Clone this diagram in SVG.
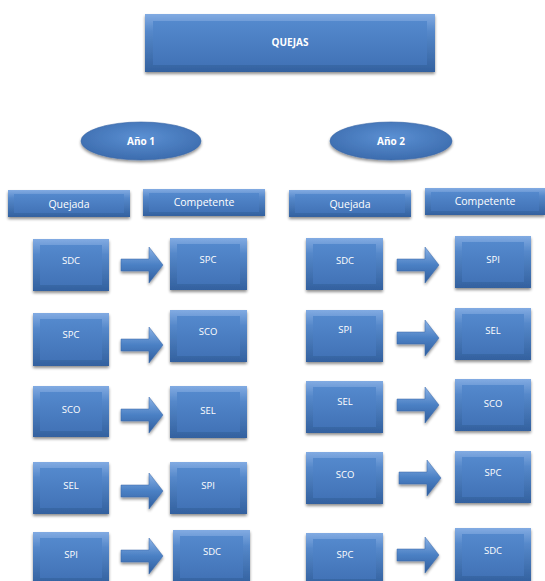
<svg xmlns="http://www.w3.org/2000/svg" width="545" height="581" viewBox="0 0 545 581">
<defs>
<linearGradient id="face" x1="0" y1="0" x2="0" y2="1">
<stop offset="0" stop-color="#5489cd"/>
<stop offset="1" stop-color="#4273b7"/>
</linearGradient>
<linearGradient id="edge" x1="0" y1="0" x2="0" y2="1">
<stop offset="0" stop-color="#82abe2"/>
<stop offset="0.3" stop-color="#5588ca"/>
<stop offset="1" stop-color="#33619f"/>
</linearGradient>
<radialGradient id="ell" cx="0.5" cy="0.4" r="0.6">
<stop offset="0" stop-color="#5b90d3"/>
<stop offset="1" stop-color="#3c6cae"/>
</radialGradient>
<linearGradient id="arr" x1="0" y1="0" x2="0" y2="1">
<stop offset="0" stop-color="#8ab2e6"/>
<stop offset="0.5" stop-color="#4b80c4"/>
<stop offset="1" stop-color="#2f5e9e"/>
</linearGradient>
<filter id="sh" x="-20%" y="-20%" width="140%" height="150%">
<feGaussianBlur in="SourceAlpha" stdDeviation="1.5"/>
<feOffset dx="0" dy="2" result="b"/>
<feComponentTransfer><feFuncA type="linear" slope="0.45"/></feComponentTransfer>
<feMerge><feMergeNode/><feMergeNode in="SourceGraphic"/></feMerge>
</filter>
</defs>
<style>
.o{fill:url(#edge);filter:url(#sh)}
.i{fill:url(#face)}
.e{fill:url(#ell);stroke:#3a68a8;stroke-width:0.6;filter:url(#sh)}
.a{fill:url(#arr);stroke:#3a68a8;stroke-width:0.5;filter:url(#sh)}
text{font-family:"Open Sans","Liberation Sans",sans-serif;fill:#fff;text-anchor:middle}
.b{font-size:9.5px}
.h{font-size:10.5px}
.t{font-size:10px;font-weight:bold}
</style>

<g id="title"><rect class="o" x="145" y="14" width="290" height="58"/><rect class="i" x="153" y="21" width="274" height="44"/><text class="t" x="290" y="46">QUEJAS</text></g>

<g id="ano1"><ellipse class="e" cx="141" cy="141" rx="60" ry="19"/><text class="t" x="141" y="145">Año 1</text></g>
<g id="ano2"><ellipse class="e" cx="391" cy="141" rx="61" ry="19"/><text class="t" x="391" y="145">Año 2</text></g>

<g id="quejada1"><rect class="o" x="8" y="190" width="122" height="27"/><rect class="i" x="14" y="194" width="110" height="19"/><text class="h" x="69" y="208">Quejada</text></g>
<g id="competente1"><rect class="o" x="143" y="189" width="122" height="27"/><rect class="i" x="149" y="193" width="110" height="19"/><text class="h" x="204" y="206">Competente</text></g>
<g id="quejada2"><rect class="o" x="289" y="190" width="122" height="27"/><rect class="i" x="295" y="194" width="110" height="19"/><text class="h" x="350" y="208">Quejada</text></g>
<g id="competente2"><rect class="o" x="425" y="188" width="120" height="27"/><rect class="i" x="431" y="192" width="108" height="19"/><text class="h" x="485" y="205">Competente</text></g>

<g id="a1q1"><rect class="o" x="33" y="239" width="76" height="52"/><rect class="i" x="40" y="245" width="62" height="40"/><text class="b" x="71" y="264">SDC</text></g>
<g id="a1q2"><rect class="o" x="33" y="313" width="76" height="53"/><rect class="i" x="40" y="319" width="62" height="41"/><text class="b" x="71" y="338">SPC</text></g>
<g id="a1q3"><rect class="o" x="33" y="386" width="76" height="51"/><rect class="i" x="40" y="392" width="62" height="39"/><text class="b" x="71" y="413">SCO</text></g>
<g id="a1q4"><rect class="o" x="33" y="462" width="76" height="52"/><rect class="i" x="40" y="468" width="62" height="40"/><text class="b" x="71" y="489">SEL</text></g>
<g id="a1q5"><rect class="o" x="33" y="532" width="76" height="52"/><rect class="i" x="40" y="538" width="62" height="40"/><text class="b" x="71" y="558">SPI</text></g>

<g id="a1c1"><rect class="o" x="170" y="238" width="77" height="52"/><rect class="i" x="177" y="244" width="63" height="40"/><text class="b" x="208" y="263">SPC</text></g>
<g id="a1c2"><rect class="o" x="170" y="310" width="77" height="52"/><rect class="i" x="177" y="316" width="63" height="40"/><text class="b" x="208" y="335">SCO</text></g>
<g id="a1c3"><rect class="o" x="170" y="386" width="77" height="52"/><rect class="i" x="177" y="392" width="63" height="40"/><text class="b" x="208" y="414">SEL</text></g>
<g id="a1c4"><rect class="o" x="170" y="462" width="77" height="52"/><rect class="i" x="177" y="468" width="63" height="40"/><text class="b" x="208" y="489">SPI</text></g>
<g id="a1c5"><rect class="o" x="173" y="530" width="77" height="54"/><rect class="i" x="180" y="536" width="63" height="42"/><text class="b" x="212" y="555">SDC</text></g>

<g id="a2q1"><rect class="o" x="306" y="238" width="77" height="52"/><rect class="i" x="313" y="244" width="63" height="40"/><text class="b" x="345" y="264">SDC</text></g>
<g id="a2q2"><rect class="o" x="306" y="310" width="77" height="52"/><rect class="i" x="313" y="316" width="63" height="40"/><text class="b" x="345" y="333">SPI</text></g>
<g id="a2q3"><rect class="o" x="306" y="381" width="77" height="52"/><rect class="i" x="313" y="387" width="63" height="40"/><text class="b" x="345" y="405">SEL</text></g>
<g id="a2q4"><rect class="o" x="306" y="452" width="77" height="52"/><rect class="i" x="313" y="458" width="63" height="40"/><text class="b" x="345" y="478">SCO</text></g>
<g id="a2q5"><rect class="o" x="306" y="533" width="77" height="52"/><rect class="i" x="313" y="539" width="63" height="40"/><text class="b" x="345" y="558">SPC</text></g>

<g id="a2c1"><rect class="o" x="455" y="236" width="76" height="52"/><rect class="i" x="462" y="242" width="62" height="40"/><text class="b" x="493" y="263">SPI</text></g>
<g id="a2c2"><rect class="o" x="455" y="308" width="76" height="52"/><rect class="i" x="462" y="314" width="62" height="40"/><text class="b" x="493" y="334">SEL</text></g>
<g id="a2c3"><rect class="o" x="455" y="379" width="76" height="52"/><rect class="i" x="462" y="385" width="62" height="40"/><text class="b" x="493" y="407">SCO</text></g>
<g id="a2c4"><rect class="o" x="455" y="451" width="76" height="52"/><rect class="i" x="462" y="457" width="62" height="40"/><text class="b" x="493" y="476">SPC</text></g>
<g id="a2c5"><rect class="o" x="455" y="528" width="76" height="54"/><rect class="i" x="462" y="534" width="62" height="42"/><text class="b" x="493" y="554">SDC</text></g>

<g id="connectors">
<path class="a" d="M121 259h28v-12l14 18-14 18v-12h-28z"/>
<path class="a" d="M121 339h28v-12l14 18-14 18v-12h-28z"/>
<path class="a" d="M121 409h28v-12l14 18-14 18v-12h-28z"/>
<path class="a" d="M121 485h28v-12l14 18-14 18v-12h-28z"/>
<path class="a" d="M121 550h28v-12l14 18-14 18v-12h-28z"/>
<path class="a" d="M397 259h28v-12l14 18-14 18v-12h-28z"/>
<path class="a" d="M397 332h28v-12l14 18-14 18v-12h-28z"/>
<path class="a" d="M397 399h28v-12l14 18-14 18v-12h-28z"/>
<path class="a" d="M399 472h28v-12l14 18-14 18v-12h-28z"/>
<path class="a" d="M397 549h28v-12l14 18-14 18v-12h-28z"/>
</g>
</svg>
